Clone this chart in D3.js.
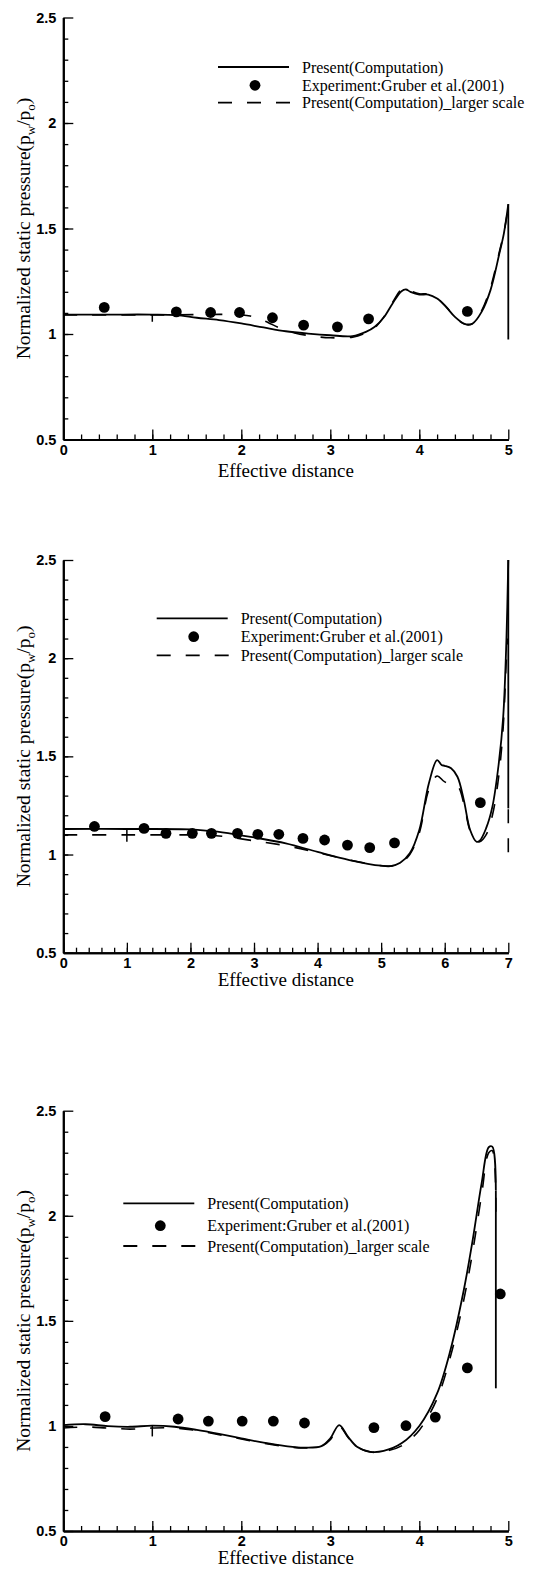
<!DOCTYPE html>
<html>
<head>
<meta charset="utf-8">
<script src="https://cdn.jsdelivr.net/npm/d3@7"></script>
<style>
body { margin: 0; background: #fff; }
svg { display: block; }
</style>
</head>
<body>
<svg id="chart" width="539" height="1570"></svg>
<script>
// tick values
var yTicks = [0.5, 1, 1.5, 2, 2.5];
var xTicks5 = [0, 1, 2, 3, 4, 5];
var xTicks7 = [0, 1, 2, 3, 4, 5, 6, 7];
var legendLabels = ["Present(Computation)", "Experiment:Gruber et al.(2001)", "Present(Computation)_larger scale"];

// panel 1 (x 0-5)
var p1Solid = [[0,1.092],[0.5,1.092],[1,1.092],[1.27,1.089],[1.5,1.077],[1.75,1.066],[2,1.05],[2.25,1.031],[2.5,1.013],[2.75,1.002],[3,0.994],[3.25,0.99],[3.4,1.01],[3.5,1.034],[3.6,1.078],[3.7,1.145],[3.8,1.203],[3.85,1.211],[3.9,1.2],[4,1.187],[4.1,1.187],[4.2,1.168],[4.3,1.129],[4.4,1.081],[4.5,1.05],[4.55,1.045],[4.6,1.05],[4.7,1.105],[4.8,1.208],[4.9,1.382],[4.95,1.476],[5,1.615]];
var p1Drop = [[5,1.615],[5,0.974]];
var p1Dashed = [[0,1.09],[1,1.09],[1.5,1.092],[1.8,1.093],[2,1.09],[2.1,1.085],[2.2,1.072],[2.3,1.055],[2.42,1.03],[2.6,1.005],[2.8,0.99],[3,0.982],[3.25,0.985],[3.4,1.005],[3.5,1.03],[3.6,1.08],[3.7,1.15],[3.8,1.212],[3.85,1.218],[3.9,1.205],[4,1.19],[4.1,1.19],[4.2,1.17],[4.3,1.13],[4.4,1.08],[4.5,1.048],[4.55,1.043],[4.6,1.05],[4.7,1.11],[4.8,1.22],[4.9,1.39],[4.95,1.48],[5,1.6]];
var p1Mark = [[1,1.092],[1,1.058]];
var p1Exp = [[0.46,1.126],[1.27,1.105],[1.655,1.102],[1.98,1.102],[2.35,1.077],[2.7,1.042],[3.08,1.034],[3.43,1.072],[4.54,1.107]];

// panel 2 (x 0-7)
var p2Solid = [[0,1.13],[1,1.13],[2,1.128],[2.3,1.12],[2.5,1.113],[3,1.087],[3.5,1.057],[4,1.013],[4.5,0.972],[5,0.943],[5.15,0.941],[5.3,0.958],[5.45,1.006],[5.6,1.125],[5.75,1.362],[5.88,1.481],[5.95,1.456],[6,1.452],[6.1,1.439],[6.2,1.396],[6.3,1.278],[6.4,1.125],[6.5,1.065],[6.55,1.07],[6.65,1.133],[6.75,1.244],[6.85,1.464],[6.92,1.702],[6.97,2.09],[7,2.5]];
var p2Drop = [[7,2.5],[7,1.235]];
var p2Dashed = [[0,1.1],[1,1.1],[2,1.1],[2.3,1.098],[2.5,1.093],[3,1.07],[3.5,1.045],[3.8,1.025],[4,1.01],[4.5,0.972],[5,0.943],[5.15,0.941],[5.3,0.955],[5.45,1.0],[5.6,1.11],[5.75,1.33],[5.88,1.4],[6,1.37],[6.2,1.35],[6.3,1.26],[6.4,1.12],[6.5,1.07],[6.55,1.065],[6.65,1.1],[6.75,1.2],[6.85,1.4],[6.92,1.65],[6.97,2.0],[6.99,2.1]];
var p2DashDrop = [[7,1.23],[7,0.98]];
var p2Mark = [[1,1.125],[1,1.065]];
var p2Exp = [[0.49,1.143],[1.27,1.133],[1.615,1.108],[2.03,1.108],[2.33,1.108],[2.74,1.108],[3.06,1.103],[3.39,1.103],[3.77,1.082],[4.11,1.074],[4.47,1.048],[4.82,1.035],[5.21,1.059],[6.56,1.264]];

// panel 3 (x 0-5)
var p3Solid = [[0,1.004],[0.25,1.008],[0.5,0.999],[0.75,0.996],[1,1.001],[1.25,0.996],[1.5,0.981],[1.75,0.962],[2,0.941],[2.25,0.92],[2.5,0.904],[2.7,0.897],[2.9,0.904],[3,0.941],[3.1,1.004],[3.2,0.948],[3.3,0.901],[3.45,0.877],[3.6,0.881],[3.8,0.917],[4,1.0],[4.2,1.155],[4.35,1.361],[4.5,1.647],[4.6,1.885],[4.7,2.154],[4.78,2.326],[4.82,2.329],[4.86,2.12]];
var p3Drop = [[4.86,2.12],[4.86,1.179]];
var p3Dashed = [[0,0.99],[0.25,0.995],[0.5,0.99],[0.75,0.985],[1,0.99],[1.25,0.99],[1.5,0.978],[1.75,0.958],[2,0.938],[2.25,0.918],[2.5,0.902],[2.7,0.895],[2.9,0.903],[3,0.935],[3.1,0.998],[3.2,0.945],[3.3,0.9],[3.45,0.876],[3.6,0.878],[3.8,0.905],[4,0.98],[4.2,1.13],[4.35,1.33],[4.5,1.6],[4.6,1.83],[4.7,2.1],[4.78,2.3],[4.82,2.31],[4.86,2.0]];
var p3Mark = [[1,1.0],[1,0.95]];
var p3Exp = [[0.47,1.044],[1.29,1.033],[1.63,1.023],[2.01,1.023],[2.36,1.023],[2.71,1.014],[3.49,0.992],[3.85,1.001],[4.18,1.042],[4.54,1.276],[4.91,1.628]];

var svg = d3.select("#chart");
var left = 63.3, right = 508.3;

var panels = [
  {top: 17.5, bottom: 439.5, titleGap: 37, xTicks: xTicks5, solid: p1Solid, drops: [p1Drop], dashed: p1Dashed, dashDrops: [], mark: p1Mark, exp: p1Exp,
   legend: {x: 218, y: 67, rows: [0, 18.3, 35.7]}},
  {top: 560, bottom: 952.7, titleGap: 33, xTicks: xTicks7, solid: p2Solid, drops: [p2Drop], dashed: p2Dashed, dashDrops: [p2DashDrop], mark: p2Mark, exp: p2Exp,
   legend: {x: 156.7, y: 618.3, rows: [0, 18.4, 37]}},
  {top: 1110.7, bottom: 1531, titleGap: 33, xTicks: xTicks5, solid: p3Solid, drops: [p3Drop], dashed: p3Dashed, dashDrops: [], mark: p3Mark, exp: p3Exp,
   legend: {x: 123.3, y: 1203.3, rows: [0, 22.4, 42.7]}}
];

panels.forEach(function(p) { drawPanel(p); });

function drawPanel(p) {
  var xMax = p.xTicks[p.xTicks.length - 1];
  var x = d3.scaleLinear().domain([0, xMax]).range([left, right]);
  var y = d3.scaleLinear().domain([0.5, 2.5]).range([p.bottom, p.top]);

  var curve = d3.line()
      .x(function(d) { return x(d[0]); })
      .y(function(d) { return y(d[1]); })
      .curve(d3.curveCatmullRom.alpha(0.5));
  var straight = d3.line()
      .x(function(d) { return x(d[0]); })
      .y(function(d) { return y(d[1]); });

  var g = svg.append("g");

  // minor ticks
  g.append("g")
      .attr("transform", "translate(" + left + ",0)")
      .call(d3.axisLeft(y).tickValues(d3.range(0.6, 2.5, 0.1)).tickSizeInner(-5).tickSizeOuter(0).tickFormat(""))
      .call(styleAxis);
  g.append("g")
      .attr("transform", "translate(0," + p.bottom + ")")
      .call(d3.axisBottom(x).tickValues(d3.range(0.2, xMax, 0.2)).tickSizeInner(-5).tickSizeOuter(0).tickFormat(""))
      .call(styleAxis);

  // major ticks
  g.append("g")
      .attr("transform", "translate(" + left + ",0)")
      .call(d3.axisLeft(y).tickValues(yTicks).tickSizeInner(-10).tickSizeOuter(0).tickPadding(7).tickFormat(d3.format("")))
      .call(styleAxis);
  g.append("g")
      .attr("transform", "translate(0," + p.bottom + ")")
      .call(d3.axisBottom(x).tickValues(p.xTicks).tickSizeInner(-10).tickSizeOuter(0).tickPadding(5).tickFormat(d3.format("d")))
      .call(styleAxis);

  // axis titles
  g.append("text")
      .attr("x", (left + right) / 2)
      .attr("y", p.bottom + p.titleGap)
      .attr("text-anchor", "middle")
      .attr("font-family", "'Liberation Serif', 'Times New Roman', serif")
      .attr("font-size", 19)
      .text("Effective distance");

  var yt = g.append("text")
      .attr("transform", "translate(30," + ((p.top + p.bottom) / 2) + ") rotate(-90)")
      .attr("text-anchor", "middle")
      .attr("font-family", "'Liberation Serif', 'Times New Roman', serif")
      .attr("font-size", 19.5);
  yt.append("tspan").text("Normalized static pressure(p");
  yt.append("tspan").attr("font-size", 13).attr("dy", 5).text("w");
  yt.append("tspan").attr("dy", -5).text("/p");
  yt.append("tspan").attr("font-size", 13).attr("dy", 5).text("o");
  yt.append("tspan").attr("dy", -5).text(")");

  // lines
  g.append("path").datum(p.dashed)
      .attr("fill", "none").attr("stroke", "#000").attr("stroke-width", 1.6)
      .attr("stroke-dasharray", "14,15")
      .attr("d", curve);
  p.dashDrops.forEach(function(d) {
    g.append("path").datum(d)
        .attr("fill", "none").attr("stroke", "#000").attr("stroke-width", 1.6)
        .attr("stroke-dasharray", "14,15")
        .attr("d", straight);
  });
  g.append("path").datum(p.solid)
      .attr("fill", "none").attr("stroke", "#000").attr("stroke-width", 1.8)
      .attr("stroke-linejoin", "round")
      .attr("d", curve);
  p.drops.forEach(function(d) {
    g.append("path").datum(d)
        .attr("fill", "none").attr("stroke", "#000").attr("stroke-width", 1.8)
        .attr("d", straight);
  });
  g.append("path").datum(p.mark)
      .attr("fill", "none").attr("stroke", "#000").attr("stroke-width", 1.5)
      .attr("d", straight);

  // experiment points
  g.selectAll("circle.exp").data(p.exp).enter().append("circle")
      .attr("class", "exp")
      .attr("cx", function(d) { return x(d[0]); })
      .attr("cy", function(d) { return y(d[1]); })
      .attr("r", 5.4)
      .attr("fill", "#000");

  // legend
  var L = p.legend;
  var lg = g.append("g").attr("transform", "translate(" + L.x + "," + L.y + ")");
  lg.append("line").attr("x1", 0).attr("x2", 71).attr("y1", L.rows[0]).attr("y2", L.rows[0])
      .attr("stroke", "#000").attr("stroke-width", 1.8);
  lg.append("circle").attr("cx", 37).attr("cy", L.rows[1]).attr("r", 5.4).attr("fill", "#000");
  lg.append("line").attr("x1", 0).attr("x2", 72).attr("y1", L.rows[2]).attr("y2", L.rows[2])
      .attr("stroke", "#000").attr("stroke-width", 1.8).attr("stroke-dasharray", "14,15");
  lg.selectAll("text").data(legendLabels).enter().append("text")
      .attr("x", 84)
      .attr("y", function(d, i) { return L.rows[i]; })
      .attr("dy", "0.35em")
      .attr("font-family", "'Liberation Serif', 'Times New Roman', serif")
      .attr("font-size", 16)
      .text(function(d) { return d; });
}

function styleAxis(g) {
  g.select(".domain").attr("stroke", "#000").attr("stroke-width", 2);
  g.selectAll(".tick line").attr("stroke", "#000").attr("stroke-width", 1.3);
  g.selectAll(".tick text")
      .attr("fill", "#000")
      .attr("font-family", "'Liberation Sans', Arial, sans-serif")
      .attr("font-weight", "bold")
      .attr("font-size", 14.5);
}
</script>
</body>
</html>
